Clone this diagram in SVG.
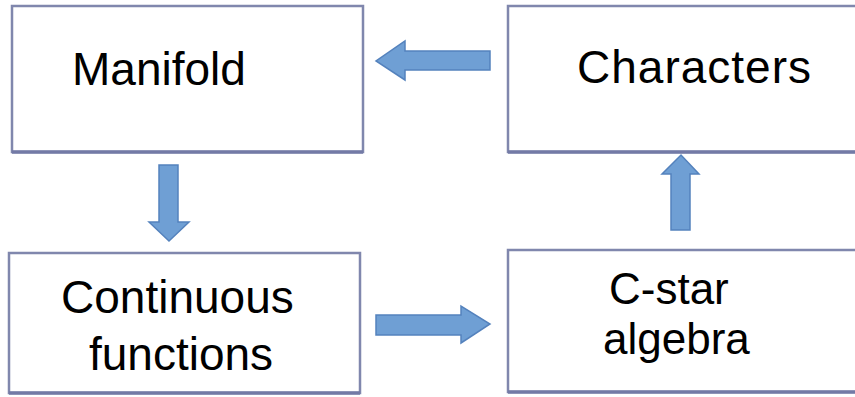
<svg xmlns="http://www.w3.org/2000/svg" width="855" height="397" viewBox="0 0 855 397">
<defs>
<style>
.box{fill:#ffffff;stroke:#8087ad;stroke-width:2.5}
.edge{stroke:#737aa6;stroke-width:3.5;fill:none}
.lbl{font-family:"Liberation Sans",Arial,sans-serif;font-size:46px;fill:#000000}
.sm{font-size:44px}
.arrow{fill:#6f9fd4;stroke:#5482bd;stroke-width:1.5;stroke-linejoin:miter}
</style>
</defs>
<rect width="855" height="397" fill="#ffffff"/>
<g id="manifold">
<rect class="box" x="12" y="6" width="351" height="146"/>
<line class="edge" x1="12" y1="152" x2="363" y2="152"/>
<text class="lbl" x="72" y="85">Manifold</text>
</g>
<g id="characters">
<rect class="box" x="508" y="6" width="370" height="146"/>
<line class="edge" x1="508" y1="152" x2="855" y2="152"/>
<text class="lbl" x="577" y="83" letter-spacing="1">Characters</text>
</g>
<g id="continuous">
<rect class="box" x="9" y="253" width="351" height="140"/>
<line class="edge" x1="9" y1="393" x2="360" y2="393"/>
<text class="lbl" x="61" y="313">Continuous</text>
<text class="lbl" x="89" y="370">functions</text>
</g>
<g id="cstar">
<rect class="box" x="508" y="250" width="370" height="142"/>
<line class="edge" x1="508" y1="392" x2="855" y2="392"/>
<text class="lbl sm" x="609" y="304">C-star</text>
<text class="lbl sm" x="603" y="354">algebra</text>
</g>
<g id="connectors">
<polygon class="arrow" points="490,51 405,51 405,41 376,61 405,80 405,70 490,70"/>
<polygon class="arrow" points="159,165 178,165 178,222 189,222 169,241 149,222 159,222"/>
<polygon class="arrow" points="376,315 461,315 461,306 490,324 461,343 461,335 376,335"/>
<polygon class="arrow" points="671,230 690,230 690,174 699,174 681,155 662,174 671,174"/>
</g>
</svg>
